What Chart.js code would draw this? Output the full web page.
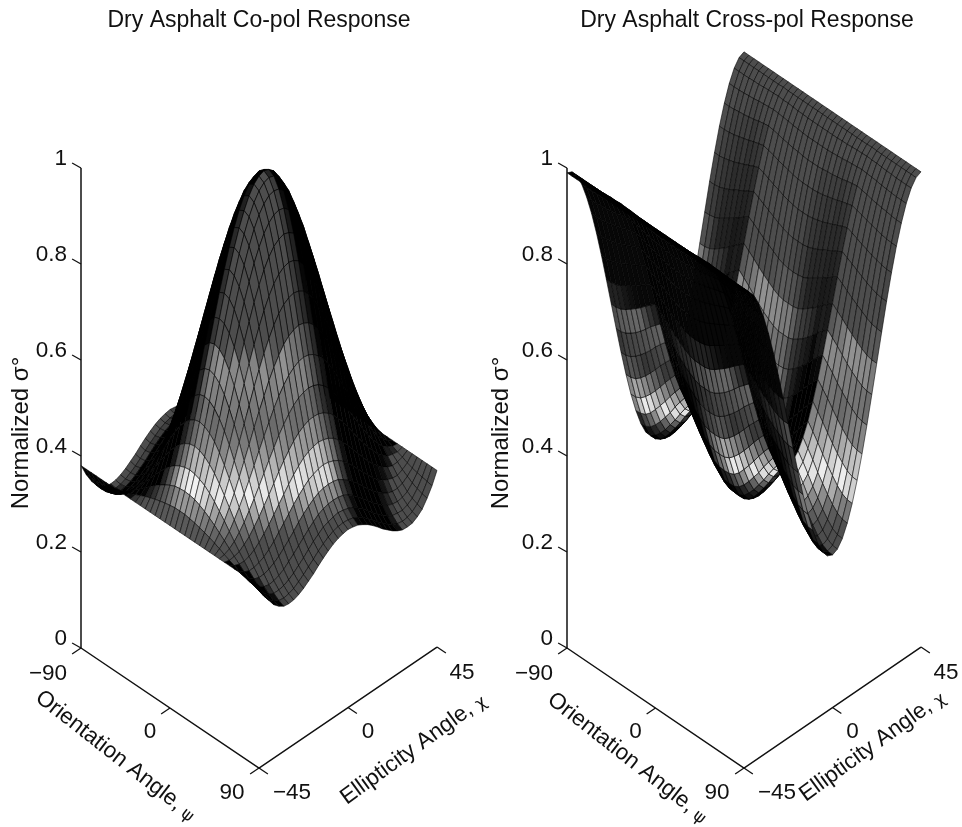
<!DOCTYPE html>
<html>
<head>
<meta charset="utf-8">
<title>Dry Asphalt polarization response</title>
<script src="https://cdn.jsdelivr.net/npm/chart.js@4"></script>
<style>
  html, body { margin: 0; background: #fff; overflow: hidden; }
  #page { position: relative; width: 962px; height: 827px; overflow: hidden; }
  canvas { position: absolute; top: 0; }
</style>
</head>
<body>
<div id="page">
  <canvas id="coChart" width="518" height="860" style="left:0"></canvas>
  <canvas id="crossChart" width="534" height="860" style="left:480px"></canvas>
</div>
<script>
const psiGrid = [-90,-85,-80,-75,-70,-65,-60,-55,-50,-45,-40,-35,-30,-25,-20,-15,-10,-5,0,5,10,15,20,25,30,35,40,45,50,55,60,65,70,75,80,85,90];
const chiGrid = [-45,-42.5,-40,-37.5,-35,-32.5,-30,-27.5,-25,-22.5,-20,-17.5,-15,-12.5,-10,-7.5,-5,-2.5,0,2.5,5,7.5,10,12.5,15,17.5,20,22.5,25,27.5,30,32.5,35,37.5,40,42.5,45];
const psiTicks = [-90, 0, 90];
const chiTicks = [-45, 0, 45];
const sigmaTicks = [0, 0.2, 0.4, 0.6, 0.8, 1];

// normalized sigma x 1000, one row per psi, one column per chi
const coPol = [
[380,355,335,319,309,302,300,301,305,311,319,327,337,346,354,361,366,369,371,369,366,360,353,344,334,323,314,305,298,293,292,293,299,308,324,343,368],
[380,355,334,318,308,301,298,299,303,309,316,325,334,343,351,359,364,367,368,367,364,358,350,341,331,321,311,303,296,291,290,292,298,307,323,343,368],
[380,355,335,319,309,302,300,301,305,311,319,327,337,346,354,361,366,369,371,369,366,360,353,344,334,323,314,305,298,293,292,293,299,308,324,343,368],
[380,357,337,323,313,307,305,307,311,318,326,335,344,354,362,369,374,377,378,377,374,368,361,352,341,331,321,312,304,299,297,298,303,312,326,345,368],
[380,359,341,328,320,315,315,317,322,329,338,347,357,367,375,383,387,390,392,390,387,382,374,365,354,343,333,323,315,309,307,306,310,317,330,347,368],
[380,361,346,335,329,326,327,331,337,346,355,365,375,385,394,402,407,410,411,410,407,401,393,383,372,361,350,340,330,323,319,317,319,324,335,349,368],
[380,364,353,345,341,341,344,350,357,367,377,388,400,410,419,427,433,436,437,436,433,426,418,408,397,384,372,361,350,342,335,331,331,334,342,352,368],
[380,368,360,355,355,358,363,371,381,393,405,417,430,441,451,460,465,469,471,469,465,459,450,439,427,413,400,387,374,363,355,349,345,344,349,356,368],
[380,373,369,368,371,377,386,397,409,423,437,451,465,478,489,499,505,509,511,509,505,498,488,476,462,447,432,417,402,389,378,368,361,357,358,361,368],
[380,377,378,381,389,398,411,425,441,457,474,491,507,521,534,544,551,556,557,556,551,543,533,519,504,487,469,451,434,417,403,389,379,370,367,365,368],
[380,382,387,395,407,421,438,456,475,495,515,534,553,569,583,595,603,608,610,608,603,594,582,567,550,530,510,489,468,448,430,412,397,384,376,370,368],
[380,387,397,409,426,445,466,488,511,535,558,580,602,621,637,650,659,665,667,665,659,649,636,619,599,576,553,529,504,480,458,436,416,398,386,375,368],
[380,392,406,424,445,468,494,521,548,576,603,628,653,674,692,708,718,724,727,724,718,707,691,672,650,624,598,570,541,513,486,459,435,413,395,380,368],
[380,396,415,437,463,491,521,553,584,616,647,676,703,727,748,765,777,784,787,784,777,764,747,725,700,672,642,610,577,545,513,482,453,426,404,384,368],
[380,400,423,450,480,512,547,583,618,654,689,721,751,778,801,820,833,841,844,841,833,819,800,776,748,717,684,648,611,575,539,503,470,439,412,388,368],
[380,403,430,461,495,531,569,609,649,688,726,762,795,824,849,869,884,892,896,892,884,868,848,822,792,758,721,682,642,601,561,522,485,450,419,391,368],
[380,406,436,470,507,547,588,631,674,716,757,796,831,863,889,911,926,936,939,936,926,910,888,861,828,792,752,710,667,623,580,538,497,459,425,394,368],
[380,408,441,476,516,558,602,648,693,738,781,821,859,892,920,943,959,969,972,969,959,942,919,890,856,817,776,732,686,640,594,549,506,465,430,396,368],
[380,410,443,480,522,565,611,658,705,751,796,837,876,910,939,962,979,989,993,989,979,961,938,908,873,833,791,745,698,650,603,556,512,469,432,398,368],
[380,410,444,482,524,568,614,662,709,755,801,843,882,916,945,969,986,996,1000,996,986,968,944,914,879,839,796,749,702,654,606,559,514,471,433,398,368],
[380,410,443,480,522,565,611,658,705,751,796,837,876,910,939,962,979,989,993,989,979,961,938,908,873,833,791,745,698,650,603,556,512,469,432,398,368],
[380,408,441,476,516,558,602,648,693,738,781,821,859,892,920,943,959,969,972,969,959,942,919,890,856,817,776,732,686,640,594,549,506,465,430,396,368],
[380,406,436,470,507,547,588,631,674,716,757,796,831,863,889,911,926,936,939,936,926,910,888,861,828,792,752,710,667,623,580,538,497,459,425,394,368],
[380,403,430,461,495,531,569,609,649,688,726,762,795,824,849,869,884,892,896,892,884,868,848,822,792,758,721,682,642,601,561,522,485,450,419,391,368],
[380,400,423,450,480,512,547,583,618,654,689,721,751,778,801,820,833,841,844,841,833,819,800,776,748,717,684,648,611,575,539,503,470,439,412,388,368],
[380,396,415,437,463,491,521,553,584,616,647,676,703,727,748,765,777,784,787,784,777,764,747,725,700,672,642,610,577,545,513,482,453,426,404,384,368],
[380,392,406,424,445,468,494,521,548,576,603,628,653,674,692,708,718,724,727,724,718,707,691,672,650,624,598,570,541,513,486,459,435,413,395,380,368],
[380,387,397,409,426,445,466,488,511,535,558,580,602,621,637,650,659,665,667,665,659,649,636,619,599,576,553,529,504,480,458,436,416,398,386,375,368],
[380,382,387,395,407,421,438,456,475,495,515,534,553,569,583,595,603,608,610,608,603,594,582,567,550,530,510,489,468,448,430,412,397,384,376,370,368],
[380,377,378,381,389,398,411,425,441,457,474,491,507,521,534,544,551,556,557,556,551,543,533,519,504,487,469,451,434,417,403,389,379,370,367,365,368],
[380,373,369,368,371,377,386,397,409,423,437,451,465,478,489,499,505,509,511,509,505,498,488,476,462,447,432,417,402,389,378,368,361,357,358,361,368],
[380,368,360,355,355,358,363,371,381,393,405,417,430,441,451,460,465,469,471,469,465,459,450,439,427,413,400,387,374,363,355,349,345,344,349,356,368],
[380,364,353,345,341,341,344,350,357,367,377,388,400,410,419,427,433,436,437,436,433,426,418,408,397,384,372,361,350,342,335,331,331,334,342,352,368],
[380,361,346,335,329,326,327,331,337,346,355,365,375,385,394,402,407,410,411,410,407,401,393,383,372,361,350,340,330,323,319,317,319,324,335,349,368],
[380,359,341,328,320,315,315,317,322,329,338,347,357,367,375,383,387,390,392,390,387,382,374,365,354,343,333,323,315,309,307,306,310,317,330,347,368],
[380,357,337,323,313,307,305,307,311,318,326,335,344,354,362,369,374,377,378,377,374,368,361,352,341,331,321,312,304,299,297,298,303,312,326,345,368],
[380,355,335,319,309,302,300,301,305,311,319,327,337,346,354,361,366,369,371,369,366,360,353,344,334,323,314,305,298,293,292,293,299,308,324,343,368]
];

const crossPol = [
[990,985,970,945,911,870,822,769,712,654,596,539,486,438,397,363,338,323,318,323,338,363,397,438,486,539,596,654,712,769,822,870,911,945,970,985,990],
[990,985,970,945,911,870,822,769,713,654,596,540,487,439,398,364,339,324,319,324,339,364,398,439,487,540,596,654,713,769,822,870,911,945,970,985,990],
[990,985,970,945,912,871,824,771,715,657,600,544,491,444,403,370,345,330,325,330,345,370,403,444,491,544,600,657,715,771,824,871,912,945,970,985,990],
[990,985,970,946,914,873,827,775,720,663,607,552,500,454,413,381,357,342,337,342,357,381,413,454,500,552,607,663,720,775,827,873,914,946,970,985,990],
[990,985,971,947,915,876,830,780,727,671,615,562,511,466,427,395,371,357,352,357,371,395,427,466,511,562,615,671,727,780,830,876,915,947,971,985,990],
[990,985,971,948,917,879,835,786,734,679,625,573,524,480,442,411,388,374,369,374,388,411,442,480,524,573,625,679,734,786,835,879,917,948,971,985,990],
[990,985,972,950,919,882,839,792,741,688,636,585,538,495,458,427,405,392,387,392,405,427,458,495,538,585,636,688,741,792,839,882,919,950,972,985,990],
[990,985,973,951,922,886,844,798,749,698,648,599,553,511,475,446,424,412,407,412,424,446,475,511,553,599,648,698,749,798,844,886,922,951,973,985,990],
[990,985,973,952,924,889,849,804,757,707,658,611,566,526,491,463,442,430,425,430,442,463,491,526,566,611,658,707,757,804,849,889,924,952,973,985,990],
[990,986,974,953,926,892,853,810,764,716,668,622,579,540,506,479,458,446,442,446,458,479,506,540,579,622,668,716,764,810,853,892,926,953,974,986,990],
[990,985,973,952,924,889,849,804,757,707,658,611,566,526,491,463,442,430,425,430,442,463,491,526,566,611,658,707,757,804,849,889,924,952,973,985,990],
[990,985,973,951,922,886,844,798,749,698,648,599,553,511,475,446,424,412,407,412,424,446,475,511,553,599,648,698,749,798,844,886,922,951,973,985,990],
[990,985,972,950,919,882,839,792,741,688,636,585,538,495,458,427,405,392,387,392,405,427,458,495,538,585,636,688,741,792,839,882,919,950,972,985,990],
[990,985,971,948,917,879,835,786,734,679,625,573,524,480,442,411,388,374,369,374,388,411,442,480,524,573,625,679,734,786,835,879,917,948,971,985,990],
[990,985,971,947,915,876,830,780,727,671,615,562,511,466,427,395,371,357,352,357,371,395,427,466,511,562,615,671,727,780,830,876,915,947,971,985,990],
[990,985,970,946,914,873,827,775,720,663,607,552,500,454,413,381,357,342,337,342,357,381,413,454,500,552,607,663,720,775,827,873,914,946,970,985,990],
[990,985,970,945,912,871,824,771,715,657,600,544,491,444,403,370,345,330,325,330,345,370,403,444,491,544,600,657,715,771,824,871,912,945,970,985,990],
[990,985,970,945,911,870,822,769,713,654,596,540,487,439,398,364,339,324,319,324,339,364,398,439,487,540,596,654,713,769,822,870,911,945,970,985,990],
[990,985,970,945,911,870,822,769,712,654,596,539,486,438,397,363,338,323,318,323,338,363,397,438,486,539,596,654,712,769,822,870,911,945,970,985,990],
[990,985,970,945,911,870,822,769,713,654,596,540,487,439,398,364,339,324,319,324,339,364,398,439,487,540,596,654,713,769,822,870,911,945,970,985,990],
[990,985,970,945,912,871,824,771,715,657,600,544,491,444,403,370,345,330,325,330,345,370,403,444,491,544,600,657,715,771,824,871,912,945,970,985,990],
[990,985,970,946,914,873,827,775,720,663,607,552,500,454,413,381,357,342,337,342,357,381,413,454,500,552,607,663,720,775,827,873,914,946,970,985,990],
[990,985,971,947,915,876,830,780,727,671,615,562,511,466,427,395,371,357,352,357,371,395,427,466,511,562,615,671,727,780,830,876,915,947,971,985,990],
[990,985,971,948,917,879,835,786,734,679,625,573,524,480,442,411,388,374,369,374,388,411,442,480,524,573,625,679,734,786,835,879,917,948,971,985,990],
[990,985,972,950,919,882,839,792,741,688,636,585,538,495,458,427,405,392,387,392,405,427,458,495,538,585,636,688,741,792,839,882,919,950,972,985,990],
[990,985,973,951,922,886,844,798,749,698,648,599,553,511,475,446,424,412,407,412,424,446,475,511,553,599,648,698,749,798,844,886,922,951,973,985,990],
[990,985,973,952,924,889,849,804,757,707,658,611,566,526,491,463,442,430,425,430,442,463,491,526,566,611,658,707,757,804,849,889,924,952,973,985,990],
[990,986,974,953,926,892,853,810,764,716,668,622,579,540,506,479,458,446,442,446,458,479,506,540,579,622,668,716,764,810,853,892,926,953,974,986,990],
[990,985,973,952,924,889,849,804,757,707,658,611,566,526,491,463,442,430,425,430,442,463,491,526,566,611,658,707,757,804,849,889,924,952,973,985,990],
[990,985,973,951,922,886,844,798,749,698,648,599,553,511,475,446,424,412,407,412,424,446,475,511,553,599,648,698,749,798,844,886,922,951,973,985,990],
[990,985,972,950,919,882,839,792,741,688,636,585,538,495,458,427,405,392,387,392,405,427,458,495,538,585,636,688,741,792,839,882,919,950,972,985,990],
[990,985,971,948,917,879,835,786,734,679,625,573,524,480,442,411,388,374,369,374,388,411,442,480,524,573,625,679,734,786,835,879,917,948,971,985,990],
[990,985,971,947,915,876,830,780,727,671,615,562,511,466,427,395,371,357,352,357,371,395,427,466,511,562,615,671,727,780,830,876,915,947,971,985,990],
[990,985,970,946,914,873,827,775,720,663,607,552,500,454,413,381,357,342,337,342,357,381,413,454,500,552,607,663,720,775,827,873,914,946,970,985,990],
[990,985,970,945,912,871,824,771,715,657,600,544,491,444,403,370,345,330,325,330,345,370,403,444,491,544,600,657,715,771,824,871,912,945,970,985,990],
[990,985,970,945,911,870,822,769,713,654,596,540,487,439,398,364,339,324,319,324,339,364,398,439,487,540,596,654,713,769,822,870,911,945,970,985,990],
[990,985,970,945,911,870,822,769,712,654,596,539,486,438,397,363,338,323,318,323,338,363,397,438,486,539,596,654,712,769,822,870,911,945,970,985,990]
];

// grey level of the original rainbow colormap once printed in black and white
const toneStops = [0, 0.167, 0.333, 0.5, 0.667, 0.833, 1];
const toneGrey = [0.30, 0.89, 0.59, 0.70, 0.11, 0.41, 0.30];

Chart.defaults.font.family = '"Liberation Sans", Arial, sans-serif';
Chart.defaults.color = '#111';

// 3D view: x is a ground unit, y stays in sigma units so the real y axis reads sigma
function view(psi, chi, sigma) {
  return {
    x: (psi + 90) / 180 + (chi + 45) / 90,
    y: sigma - (psi + 90) / 180 * 0.25 + (chi + 45) / 90 * 0.252
  };
}

function segment(points, width) {
  return { data: points, borderColor: '#111', borderWidth: width, pointRadius: 0, tension: 0, fill: false, clip: false };
}

function clamp01(v) {
  return Math.max(0, Math.min(1, v));
}

function heightGrey(f) {
  let k = 0;
  while (k < toneStops.length - 2 && f > toneStops[k + 1]) k++;
  const t = (f - toneStops[k]) / (toneStops[k + 1] - toneStops[k]);
  return toneGrey[k] + (toneGrey[k + 1] - toneGrey[k]) * t;
}

// the real mesh is 2.5x finer, so the spacing of its lines sets how black a cell prints
function faceShade(quad, f, unit) {
  const ux = ((quad[1].x - quad[0].x) + (quad[2].x - quad[3].x)) / 2 * unit / 2.5;
  const uy = ((quad[1].y - quad[0].y) + (quad[2].y - quad[3].y)) / 2 * 480 / 2.5;
  const vx = ((quad[3].x - quad[0].x) + (quad[2].x - quad[1].x)) / 2 * unit / 2.5;
  const vy = ((quad[3].y - quad[0].y) + (quad[2].y - quad[1].y)) / 2 * 480 / 2.5;
  const cross = ux * vy - uy * vx;
  const gap = Math.abs(cross) / Math.max(Math.hypot(ux, uy), Math.hypot(vx, vy));
  const lum = heightGrey(f);
  let g;
  if (cross > 0) {
    g = clamp01((gap - 1.7) / 0.5) * (0.3 + 0.65 * Math.pow(clamp01((lum - 0.45) / 0.44), 1.5));
  } else {
    g = clamp01((gap - 1.0) / 0.8) * (0.03 + 0.92 * Math.pow(clamp01((lum - 0.35) / 0.54), 2));
  }
  const v = Math.round(255 * g);
  return 'rgb(' + v + ',' + v + ',' + v + ')';
}

function surfaceDatasets(grid, unit, toneFloor) {
  const sets = [];
  const zMax = Math.max(...grid.flat());
  // far corner first: psi rising, chi falling
  for (let i = 0; i < psiGrid.length - 1; i++) {
    for (let j = chiGrid.length - 2; j >= 0; j--) {
      const quad = [
        view(psiGrid[i], chiGrid[j], grid[i][j] / 1000),
        view(psiGrid[i + 1], chiGrid[j], grid[i + 1][j] / 1000),
        view(psiGrid[i + 1], chiGrid[j + 1], grid[i + 1][j + 1] / 1000),
        view(psiGrid[i], chiGrid[j + 1], grid[i][j + 1] / 1000)
      ];
      const mean = (grid[i][j] + grid[i + 1][j] + grid[i + 1][j + 1] + grid[i][j + 1]) / 4;
      sets.push({
        data: [...quad, quad[0]],
        borderColor: 'rgba(0,0,0,0.7)',
        borderWidth: 0.8,
        backgroundColor: faceShade(quad, clamp01((mean - toneFloor) / (zMax - toneFloor)), unit),
        fill: 'shape',
        pointRadius: 0,
        tension: 0,
        clip: false
      });
    }
  }
  return sets;
}

function axisDatasets() {
  const sets = [
    segment([view(-90, -45, 0), view(-90, -45, 1)], 1.5),
    segment([view(-90, -45, 0), view(90, -45, 0), view(90, 45, 0)], 1.5)
  ];
  sigmaTicks.forEach(s => sets.push(segment([view(-90, -45, s), view(-90, -49.5, s + 0.023)], 1.3)));
  psiTicks.forEach(p => sets.push(segment([view(p, -45, 0), view(p, -49.5, 0)], 1.3)));
  chiTicks.forEach(c => sets.push(segment([view(90, c, 0), view(99, c, 0)], 1.3)));
  return sets;
}

const axisLabels = {
  id: 'axisLabels',
  afterDraw(chart, args, opts) {
    const c = chart.ctx, sx = chart.scales.x, sy = chart.scales.y;
    const at = (psi, chi) => {
      const p = view(psi, chi, 0);
      return [sx.getPixelForValue(p.x), sy.getPixelForValue(p.y)];
    };
    c.save();
    c.fillStyle = '#111';
    c.textAlign = 'center';
    c.textBaseline = 'middle';
    c.font = '22.5px "Liberation Sans"';
    const psiOff = [[-33, 26], [-20, 24], [-27, 25]];
    const chiOff = [[33, 25], [20, 24], [25, 26]];
    psiTicks.forEach((p, k) => {
      const [x, y] = at(p, -45);
      c.fillText(String(p).replace('-', '\u2212'), x + psiOff[k][0], y + psiOff[k][1]);
    });
    chiTicks.forEach((v, k) => {
      const [x, y] = at(90, v);
      c.fillText(String(v).replace('-', '\u2212'), x + chiOff[k][0], y + chiOff[k][1]);
    });
    opts.titles.forEach(t => {
      c.save();
      c.translate(t.x, t.y);
      c.rotate(t.angle * Math.PI / 180);
      c.textAlign = 'left';
      c.font = '22.5px "Liberation Sans"';
      c.fillText(t.text, 0, 0);
      const w = c.measureText(t.text).width;
      c.font = '17px "DejaVu Sans"';
      c.fillText(t.greek, w + 6, 3);
      c.restore();
    });
    c.restore();
  }
};

function makeChart(id, grid, toneFloor, title, axisLeft, unit, titles) {
  const canvas = document.getElementById(id);
  return new Chart(canvas, {
    type: 'line',
    data: { datasets: [...axisDatasets(), ...surfaceDatasets(grid, unit, toneFloor).reverse()] },
    plugins: [axisLabels],
    options: {
      responsive: false,
      animation: false,
      parsing: false,
      normalized: true,
      layout: { padding: { bottom: 28 } },
      scales: {
        x: {
          type: 'linear',
          display: false,
          min: 0,
          max: (canvas.width - axisLeft) / unit
        },
        y: {
          type: 'linear',
          min: (648 - 832) / 480,
          max: (648 - 34) / 480,
          afterFit(scale) { scale.width = axisLeft; },
          afterBuildTicks(scale) { scale.ticks = sigmaTicks.map(v => ({ value: v })); },
          border: { display: false },
          grid: { display: false, drawTicks: false },
          title: {
            display: true,
            text: 'Normalized \u03c3\u00b0',
            font: { size: 24 },
            color: '#111',
            padding: { top: 6.6, bottom: 0 }
          },
          ticks: {
            padding: 14,
            labelOffset: -9,
            color: '#111',
            font: { size: 22.5 },
            autoSkip: false,
            maxRotation: 0,
            callback: v => String(v)
          }
        }
      },
      plugins: {
        legend: { display: false },
        tooltip: { enabled: false },
        filler: { drawTime: 'beforeDatasetDraw' },
        title: {
          display: true,
          text: title,
          color: '#111',
          font: { size: 23, weight: 'normal', lineHeight: 1.1 },
          padding: { top: 7.7, bottom: 1 }
        },
        axisLabels: { titles: titles }
      }
    }
  });
}

makeChart('coChart', coPol, 352, 'Dry Asphalt Co-pol Response', 81, 178, [
  { text: 'Orientation Angle,', greek: '\u03c8', x: 38, y: 695, angle: 38 },
  { text: 'Ellipticity Angle,', greek: '\u03c7', x: 343, y: 800, angle: -36 }
]);
makeChart('crossChart', crossPol, 318, 'Dry Asphalt Cross-pol Response', 87, 177, [
  { text: 'Orientation Angle,', greek: '\u03c8', x: 70, y: 697, angle: 38 },
  { text: 'Ellipticity Angle,', greek: '\u03c7', x: 322, y: 797, angle: -36 }
]);
</script>
</body>
</html>
